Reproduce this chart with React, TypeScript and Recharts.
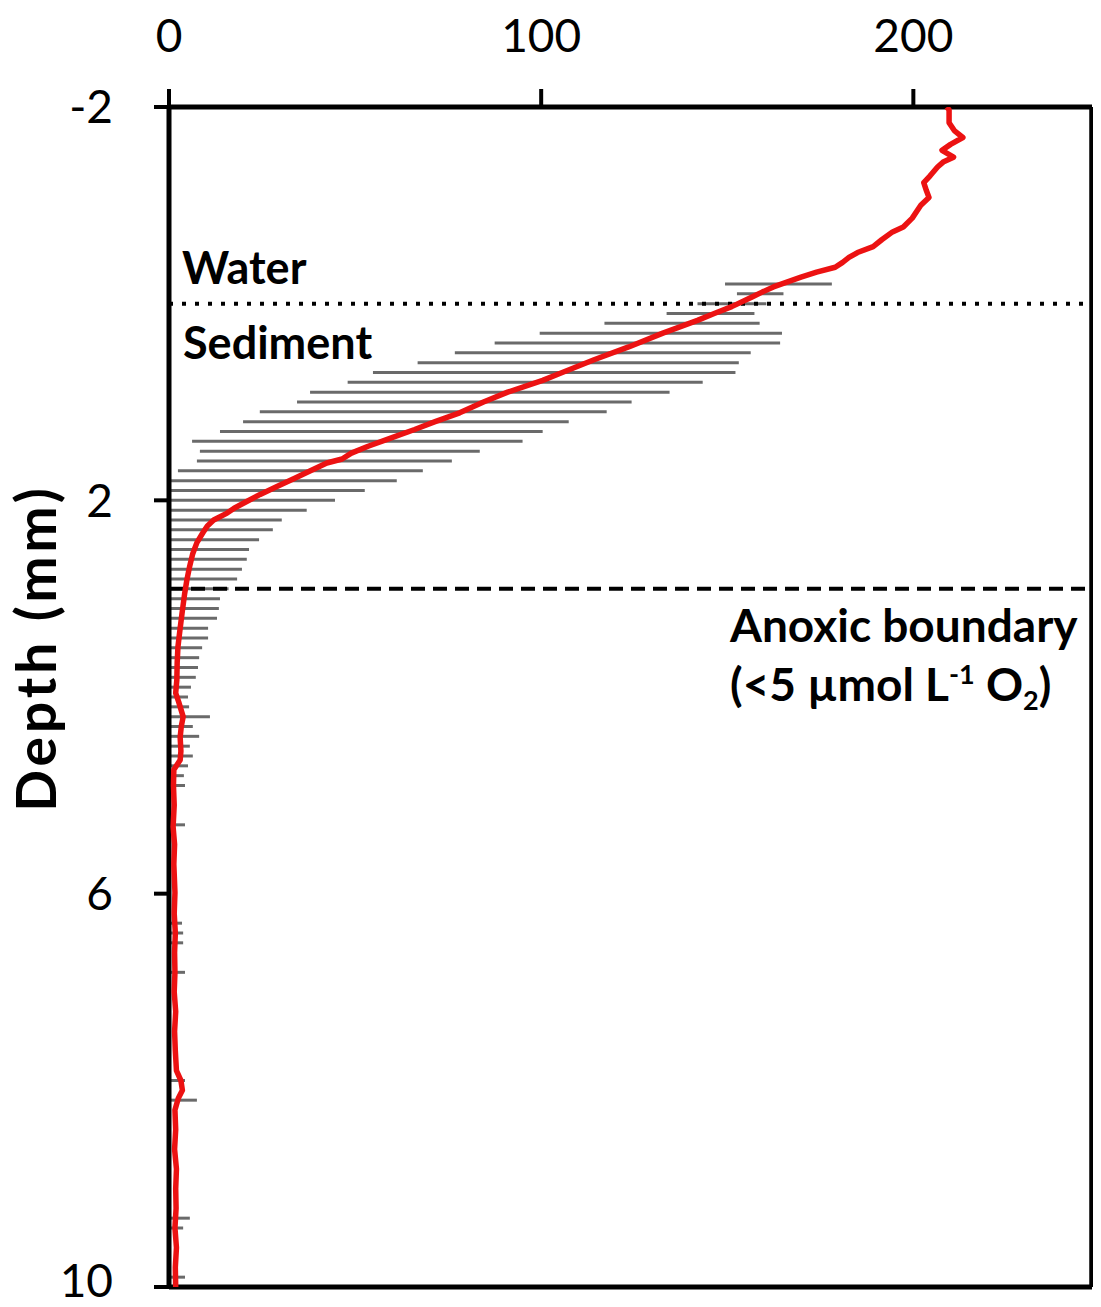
import { ScatterChart, Scatter, XAxis, YAxis, ErrorBar, ReferenceLine } from 'recharts';

// mean O2 profile (µmol/L) against depth (mm)
const profileDepth = [
  -2.0, -1.97, -1.84, -1.76, -1.69, -1.62, -1.56, -1.49, -1.44, -1.39, -1.3, -1.23, -1.15, -1.08, -1.0,
  -0.87, -0.78, -0.73, -0.65, -0.58, -0.52, -0.47, -0.42, -0.37, -0.32, -0.27, -0.22, -0.17, -0.12, -0.07,
  0.03, 0.1, 0.17, 0.3, 0.44, 0.57, 0.71, 0.78, 0.9, 1.0, 1.11, 1.2, 1.28, 1.36, 1.45, 1.52, 1.58, 1.62,
  1.7, 1.78, 1.86, 1.94, 2.02, 2.08, 2.13, 2.2, 2.26, 2.33, 2.43, 2.54, 2.68, 2.81, 2.95, 3.15, 3.3, 3.49,
  3.65, 3.83, 3.96, 4.05, 4.2, 4.3, 4.41, 4.55, 4.64, 4.74, 4.9, 5.1, 5.32, 5.5, 5.7, 5.99, 6.2, 6.4, 6.6,
  6.8, 7.0, 7.2, 7.4, 7.6, 7.8, 7.9, 8.0, 8.08, 8.2, 8.4, 8.6, 8.8, 9.0, 9.2, 9.4, 9.6, 9.8, 10.0,
];
const profileO2 = [
  209, 209.6, 209.6, 211, 213.3, 210, 207.7, 210.8, 208, 206.5, 204.5, 202.8, 203.5, 204.2, 202,
  199.7, 197.3, 194.4, 191.5, 189.2, 185, 182.7, 181, 179, 174, 169.8, 166, 162.4, 159.5, 156.8,
  151.2, 146.5, 142, 132.7, 123.5, 114.2, 105, 100.4, 91, 84.5, 78.1, 71.5, 66, 60.1, 53.5, 49, 46.5, 42.4,
  38, 33.5, 29, 24.5, 20.5, 17.5, 15.6, 12, 10.3, 9.1, 7.5, 6.4, 5.5, 4.8, 4.2, 3.5, 3, 2.4,
  2.2, 2.1, 1.8, 2.6, 3.8, 3.3, 3.0, 3.2, 3.0, 1.3, 1.2, 1.4, 1.1, 1.5, 1.3, 1.6, 1.4, 1.7, 1.5,
  1.6, 1.4, 1.8, 1.5, 1.7, 2.0, 3.2, 3.6, 2.5, 1.6, 1.8, 1.5, 2.0, 1.8, 1.9, 1.6, 2.0, 1.7, 1.8,
];

// standard deviation bars: depth, mean, left end, right end
const barDepth = [
  -0.2, -0.1, 0, 0.1, 0.2, 0.3, 0.4, 0.5, 0.6, 0.7, 0.8, 0.9, 1.0, 1.1, 1.2, 1.3, 1.4, 1.5, 1.6, 1.7,
  1.8, 1.9, 2.0, 2.1, 2.2, 2.3, 2.4, 2.5, 2.6, 2.7, 2.8, 2.9, 3.0, 3.1, 3.2, 3.3, 3.4, 3.5, 3.6, 3.7,
  3.8, 3.9, 4.0, 4.1, 4.2, 4.3, 4.4, 4.5, 4.6, 4.7, 4.8, 4.9, 5.3, 6.3, 6.4, 6.5, 6.8, 7.9, 8.1, 9.3, 9.4, 9.9,
];
const barMean = [
  164.5, 158.5, 153, 146.5, 140, 132.7, 126.3, 119, 112, 105.7, 99, 91, 84.5, 78.6, 71.5, 64.6, 57.5, 50, 43.5, 38,
  32.4, 26.8, 21.5, 16.5, 12, 9.6, 7.9, 6.8, 6.0, 5.4, 4.9, 4.5, 4.0, 3.6, 3.3, 3.0, 2.7, 2.4, 2.3, 2.2,
  2.1, 2.0, 2.2, 3.0, 3.8, 3.3, 3.0, 3.1, 3.0, 1.8, 1.2, 1.2, 1.1, 1.6, 1.7, 1.6, 1.6, 3.2, 2.3, 1.8, 1.6, 1.8,
];
// left ends; deeper bars all reach the axis (0)
const barLow = [
  149.4, 152.6, 142, 133.7, 117, 99.6, 87.5, 76.8, 66.8, 54.8, 48, 37.9, 34.4, 24.4, 19.9, 13.7, 6.2, 8.3, 7.5, 2.4,
];
const barHigh = [
  178.1, 165.1, 160.5, 157.3, 158.7, 164.7, 164.2, 156.3, 153.1, 152.2, 143.4, 134.5, 124.3, 117.6, 107.4, 100.4, 95, 83.5, 76, 68.2,
  61.2, 52.6, 44.6, 37, 30.3, 27.9, 24.2, 21.5, 20.9, 19.6, 18.3, 16, 13.7, 13.4, 12.9, 10.5, 10.5, 8.9, 8.1, 7.8,
  7.2, 5.9, 5.1, 5.4, 11, 6.4, 8.1, 5.6, 6.4, 5.1, 4.0, 4.3, 4.3, 3.5, 3.8, 3.8, 4.3, 4.3, 7.5, 5.6, 3.8, 4.3,
];

const xMax = 248;
const xTicks = [0, 100, 200];
const yTicks = [-2, 2, 6, 10];
const waterSedimentDepth = 0;
const anoxicDepth = 2.9;

const profile = profileDepth.map((d, i) => ({ depth: d, o2: profileO2[i] }));
const bars = barDepth.map((d, i) => ({
  depth: d,
  o2: barMean[i],
  err: [barMean[i] - (barLow[i] ?? 0), barHigh[i] - barMean[i]],
}));

const FONT = 'Lato, "Open Sans", sans-serif';
const RED = '#ec1212';

const noShape = () => <g />;

const WaterLabel = ({ viewBox }: any) => (
  <g fontFamily={FONT} fontWeight={700} fontSize={45} fill="#000">
    <text x={viewBox.x + 13} y={viewBox.y - 20}>Water</text>
    <text x={viewBox.x + 14} y={viewBox.y + 55}>Sediment</text>
  </g>
);

const AnoxicLabel = ({ viewBox }: any) => {
  const x = viewBox.x + 561;
  const y = viewBox.y + 53;
  return (
    <g fontFamily={FONT} fontWeight={700} fontSize={46} fill="#000">
      <text x={x} y={y}>Anoxic boundary</text>
      <text x={x} y={y + 59}>
        (&lt;5 µmol L
        <tspan dy={-17} fontSize={27}>-1</tspan>
        <tspan dy={17}> O</tspan>
        <tspan dy={9} fontSize={27}>2</tspan>
        <tspan dy={-9}>)</tspan>
      </text>
    </g>
  );
};

const DepthLabel = () => (
  <text
    x={56}
    y={648}
    transform="rotate(-90, 56, 648)"
    textAnchor="middle"
    fontFamily={FONT}
    fontWeight={700}
    fontSize={55}
    letterSpacing={4}
    fill="#000"
  >
    Depth (mm)
  </text>
);

export default function App() {
  // the negative margin cancels the body margin so the chart fills the window exactly
  return (
    <div style={{ margin: -8, width: 1101, height: 1307, fontFamily: FONT, overflow: 'hidden' }}>
      <ScatterChart width={1101} height={1307} margin={{ top: 0, right: 8, bottom: 0, left: 0 }}>
        <XAxis
          type="number"
          dataKey="o2"
          orientation="top"
          domain={[0, xMax]}
          ticks={xTicks}
          allowDataOverflow
          height={107}
          tickSize={18}
          tickMargin={37}
          axisLine={{ stroke: '#000', strokeWidth: 5 }}
          tickLine={{ stroke: '#000', strokeWidth: 4 }}
          tick={{ fontSize: 46, fill: '#000', fontFamily: FONT }}
        />
        <XAxis
          xAxisId="frame"
          type="number"
          orientation="bottom"
          domain={[0, xMax]}
          allowDataOverflow
          height={20}
          tick={false}
          tickLine={false}
          axisLine={{ stroke: '#000', strokeWidth: 5 }}
        />
        <YAxis
          type="number"
          dataKey="depth"
          reversed
          domain={[-2, 10]}
          ticks={yTicks}
          allowDataOverflow
          width={169}
          tickSize={15}
          tickMargin={41}
          axisLine={{ stroke: '#000', strokeWidth: 5 }}
          tickLine={{ stroke: '#000', strokeWidth: 4 }}
          tick={{ fontSize: 46, fill: '#000', fontFamily: FONT }}
          label={<DepthLabel />}
        />
        <YAxis
          yAxisId="frame"
          type="number"
          orientation="right"
          reversed
          domain={[-2, 10]}
          allowDataOverflow
          width={1}
          tick={false}
          tickLine={false}
          axisLine={{ stroke: '#000', strokeWidth: 5 }}
        />
        <ReferenceLine x={xMax} stroke="#000" strokeWidth={5} ifOverflow="visible" />
        <Scatter data={bars} shape={noShape} isAnimationActive={false}>
          <ErrorBar dataKey="err" direction="x" width={0} stroke="#6a6a6a" strokeWidth={3} isAnimationActive={false} />
        </Scatter>
        <ReferenceLine
          y={waterSedimentDepth}
          stroke="#000"
          strokeWidth={4}
          strokeDasharray="4 9"
          label={<WaterLabel />}
        />
        <ReferenceLine
          y={anoxicDepth}
          stroke="#000"
          strokeWidth={4}
          strokeDasharray="14 8"
          label={<AnoxicLabel />}
        />
        <Scatter
          data={profile}
          shape={noShape}
          line={{ stroke: RED, strokeWidth: 5.5, strokeLinejoin: 'round' }}
          lineType="joint"
          isAnimationActive={false}
        />
      </ScatterChart>
    </div>
  );
}
